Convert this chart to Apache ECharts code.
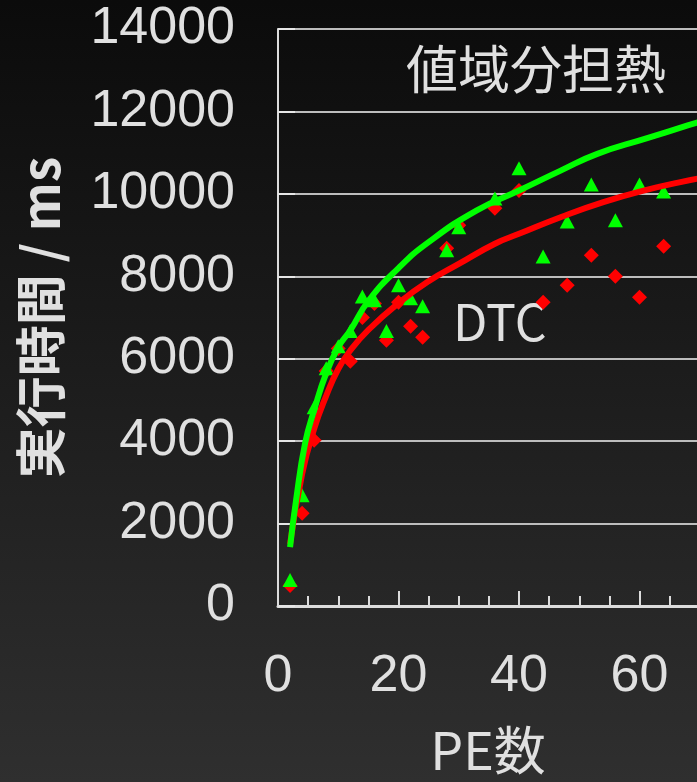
<!DOCTYPE html>
<html>
<head>
<meta charset="utf-8">
<title>値域分担熱</title>
<script src="https://cdn.jsdelivr.net/npm/echarts@6/dist/echarts.min.js"></script>
<style>
  html, body { margin: 0; padding: 0; }
  #main { width: 697px; height: 782px; }
</style>
</head>
<body>
<div id="main"></div>
<script>
// ---- データ ----
// 実測点 (PE数)
const peList = [2, 4, 6, 8, 10, 12, 14, 16, 18, 20, 22, 24, 28, 30, 36, 40, 44, 48, 52, 56, 60, 64];
// 緑 (三角)
const greenTimes = [630, 2690, 4820, 5770, 6300, 6670, 7510, 7420, 6670, 7780, 7470, 7270, 8630, 9190, 9890, 10620, 8480, 9330, 10230, 9360, 10230, 10060];
// 赤 (ひし形)
const redTimes = [500, 2250, 4020, 5700, 6250, 5940, 7000, 7340, 6450, 7370, 6790, 6520, 8680, 9240, 9650, 10080, 7370, 7780, 8510, 8000, 7490, 8730];

// 近似曲線
const greenCurvePe = [2, 3, 4.5, 6, 8, 10, 12, 15, 20, 25, 33, 40, 47, 53, 61, 68, 70];
const greenCurveTime = [1430, 2570, 3950, 4750, 5650, 6280, 6690, 7400, 8200, 8830, 9600, 10080, 10570, 10970, 11340, 11660, 11750];
const redCurvePe = [2, 4, 6, 8, 10, 12, 15, 20, 25, 30, 36, 40, 47, 54, 61, 67, 70];
const redCurveTime = [1500, 3200, 4300, 5100, 5750, 6200, 6700, 7350, 7880, 8300, 8790, 9030, 9440, 9800, 10090, 10290, 10380];

const titleText = '値域分担熱';
const seriesLabel = 'DTC';
const xName = 'PE数';
const yName = '実行時間 / ms';

function pairs(xs, ys) {
    return xs.map((x, i) => [x, ys[i]]);
}

window.onload = function () {
    let chart = echarts.init(document.getElementById('main'));
    const textColor = '#e0e0e0';
    const numFont = 'Liberation Sans';
    const jpFont = 'Noto Sans CJK JP';

    let option = {
        backgroundColor: {
            type: 'linear', x: 0, y: 0, x2: 0, y2: 1,
            colorStops: [
                { offset: 0, color: '#0b0b0b' },
                { offset: 1, color: '#2f2f2f' }
            ]
        },
        animation: false,
        title: {
            text: titleText,
            left: 406,
            top: 43,
            padding: 0,
            textStyle: { color: textColor, fontSize: 52, fontWeight: 'normal', fontFamily: jpFont }
        },
        graphic: [
            {
                type: 'text',
                left: 453,
                top: 297,
                style: { text: seriesLabel, fill: textColor, fontSize: 50, fontFamily: jpFont }
            }
        ],
        grid: { left: 278, top: 29, width: 482, height: 577, containLabel: false, outerBoundsMode: 'none' },
        xAxis: {
            type: 'value',
            min: 0,
            max: 80,
            interval: 20,
            name: xName,
            nameLocation: 'middle',
            nameGap: 118,
            nameTextStyle: { color: textColor, fontSize: 52, fontFamily: jpFont, padding: [0, 62, 0, 0] },
            axisLine: { show: true, lineStyle: { color: '#dcdcdc', width: 3 } },
            axisTick: { show: true, inside: true, length: 15, lineStyle: { color: '#dcdcdc', width: 2 } },
            minorTick: { show: true, splitNumber: 4, length: 10, lineStyle: { color: '#dcdcdc', width: 2 } },
            axisLabel: { color: textColor, fontSize: 52, fontFamily: numFont, margin: 45, formatter: v => String(v) },
            splitLine: { show: false }
        },
        yAxis: {
            type: 'value',
            min: 0,
            max: 14000,
            interval: 2000,
            name: yName,
            nameLocation: 'middle',
            nameRotate: 90,
            nameGap: 212,
            nameTextStyle: { color: textColor, fontSize: 51, fontWeight: 'bold', fontFamily: jpFont },
            axisLine: { show: true, lineStyle: { color: '#dcdcdc', width: 2 } },
            axisTick: { show: true, inside: true, length: 17, lineStyle: { color: '#e6e6e6', width: 2 } },
            axisLabel: { color: textColor, fontSize: 52, fontFamily: numFont, margin: 43, formatter: v => String(v) },
            splitLine: { show: true, lineStyle: { color: '#bdbdbd', width: 2 } }
        },
        series: [
            {
                name: 'red-fit',
                type: 'line',
                smooth: true,
                showSymbol: false,
                lineStyle: { color: '#ff0000', width: 6 },
                data: pairs(redCurvePe, redCurveTime)
            },
            {
                name: 'red',
                type: 'scatter',
                symbol: 'diamond',
                symbolSize: 15,
                itemStyle: { color: '#ff0000', opacity: 1 },
                data: pairs(peList, redTimes)
            },
            {
                name: 'green-fit',
                type: 'line',
                smooth: true,
                showSymbol: false,
                lineStyle: { color: '#00ff00', width: 6 },
                data: pairs(greenCurvePe, greenCurveTime)
            },
            {
                name: 'green',
                type: 'scatter',
                symbol: 'triangle',
                symbolSize: [15, 14],
                itemStyle: { color: '#00ff00', opacity: 1 },
                data: pairs(peList, greenTimes)
            }
        ]
    };
    chart.setOption(option);
}
</script>
</body>
</html>
